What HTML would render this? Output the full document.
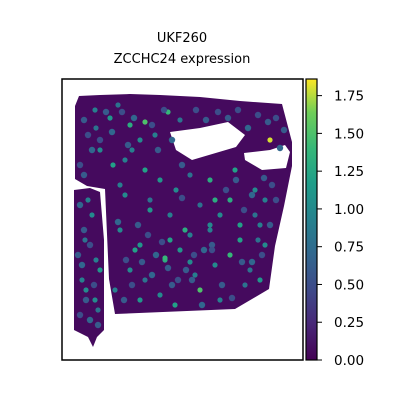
<!DOCTYPE html>
<html><head><meta charset="utf-8"><style>
body{margin:0;background:#fff}
svg text{font-family:"DejaVu Sans","Liberation Sans",sans-serif}
</style></head><body>
<svg id="chart" width="400" height="400" viewBox="0 0 400 400" xmlns="http://www.w3.org/2000/svg">
<defs>
<linearGradient id="vir" x1="0" y1="1" x2="0" y2="0">
<stop offset="0" stop-color="#440154"/><stop offset="0.13" stop-color="#482878"/><stop offset="0.25" stop-color="#3e4a89"/><stop offset="0.38" stop-color="#31688e"/><stop offset="0.5" stop-color="#26828e"/><stop offset="0.63" stop-color="#1f9e89"/><stop offset="0.75" stop-color="#35b779"/><stop offset="0.88" stop-color="#6ece58"/><stop offset="1" stop-color="#fde725"/>
</linearGradient>
</defs>
<text x="182" y="42" font-size="13" text-anchor="middle">UKF260</text>
<text x="182" y="63" font-size="13" text-anchor="middle">ZCCHC24 expression</text>
<g>
<polygon fill="#450a5e" points="79,96 100,95 130,94 160,95 200,97 240,101 282,104 292,142 292,166 284,206 275,246 269,289 235,309 115,314 109,279 105,189 87,186 75,179 75,106"/>
<polygon fill="#450a5e" points="74,190 90,188 100,192 104,240 104,330 97,337 93,347 88,337 74,330"/>
<polygon fill="#fff" points="170,132 200,128 228,122 245,135 236,147 192,160 176,150"/>
<polygon fill="#fff" points="244,153 270,150 285,145 290,152 286,168 262,170 245,160"/>
</g>
<g id="spots"></g>
<rect x="62" y="79" width="241" height="281" fill="none" stroke="#000" stroke-width="1.5"/>
<rect x="306" y="79" width="11" height="281" fill="url(#vir)" stroke="#000" stroke-width="1.2"/>
<g id="cbticks"></g>
</svg>
<script>
const tickValues=[0,0.25,0.5,0.75,1.0,1.25,1.5,1.75];
const tickLabels=["0.00","0.25","0.50","0.75","1.00","1.25","1.50","1.75"];
const spotX=[95,110,118,130,140,155,168,180,100,125,145,160,190,210,235,255,265,270,280,88,92,85,96,120,135,150,170,185,200,220,240,260,130,145,165,180,195,215,230,250,265,115,140,160,175,200,220,245,260,125,150,170,190,210,230,255,120,140,165,190,210,240,258,82,95,90,98,86,100,176,145,215,113,132,
84,88,92,80,84,96,100,106,112,122,128,134,152,158,164,172,182,196,206,218,228,238,248,258,268,276,284,272,264,252,244,236,226,212,204,194,186,178,168,156,148,138,126,118,124,132,142,152,162,172,182,192,202,212,222,232,242,252,262,270,276,80,84,90,78,82,94,86,80,98];
const spotY=[110,118,105,125,140,135,112,120,150,160,170,180,175,180,170,190,200,140,148,200,215,240,260,230,250,210,215,230,205,215,240,225,270,280,260,250,275,265,255,270,245,290,300,295,305,290,300,285,280,195,200,240,235,225,200,215,185,245,258,262,230,225,240,280,300,320,310,290,270,190,122,200,165,150,
120,135,150,165,175,128,140,112,132,112,145,118,125,150,110,140,165,110,120,112,118,110,128,115,122,118,130,185,178,195,210,180,190,245,250,255,270,280,268,255,235,225,260,222,300,285,262,275,242,285,198,280,305,250,285,298,262,262,255,225,200,205,230,245,255,265,285,300,315,325];
const spotV=[0.9,1.1,0.8,1.3,1.0,0.9,1.4,0.8,1.0,0.9,1.2,1.1,0.8,1.3,1.2,1.0,0.9,1.8,0.7,0.9,1.0,0.8,0.9,1.0,1.2,1.1,0.9,1.3,0.8,1.0,1.2,0.9,1.0,0.8,1.3,1.1,0.9,1.0,1.4,0.8,1.0,0.9,1.1,1.0,1.2,1.5,0.9,0.8,1.1,1.0,0.8,1.2,0.9,1.0,1.3,0.8,0.9,1.1,1.4,1.0,0.9,1.2,0.8,0.9,1.0,0.7,0.8,1.0,1.1,1.0,1.5,1.3,1.2,0.9,
0.6,0.5,0.7,0.5,0.6,0.8,0.5,0.6,0.7,0.5,0.6,0.7,0.5,0.6,0.5,0.7,0.6,0.5,0.6,0.5,0.6,0.5,0.7,0.5,0.6,0.5,0.6,0.5,0.6,0.7,0.5,0.6,0.5,0.6,0.7,0.5,0.6,0.5,0.6,0.7,0.5,0.6,0.5,0.7,0.6,0.5,0.6,0.7,0.5,0.6,0.5,0.6,0.7,0.5,0.6,0.5,0.6,0.7,0.5,0.6,0.5,0.7,0.6,0.5,0.6,0.7,0.5,0.6,0.5,0.6];
const vmax=1.86, cbTop=79, cbBot=360;
const yScale=v=>cbBot-(v/vmax)*(cbBot-cbTop);
const stops=[[0,[68,1,84]],[0.13,[72,40,120]],[0.25,[62,74,137]],[0.38,[49,104,142]],[0.5,[38,130,142]],[0.63,[31,158,137]],[0.75,[53,183,121]],[0.88,[110,206,88]],[1,[253,231,37]]];
function color(v){const t=Math.min(1,Math.max(0,v/vmax));for(let i=1;i<stops.length;i++){if(t<=stops[i][0]){const a=stops[i-1],b=stops[i];const f=(t-a[0])/(b[0]-a[0]);return 'rgb('+a[1].map((c,k)=>Math.round(c+(b[1][k]-c)*f)).join(',')+')';}}return 'rgb(253,231,37)';}
const NS='http://www.w3.org/2000/svg';
const sg=document.getElementById('spots');
spotX.forEach((x,i)=>{const c=document.createElementNS(NS,'circle');c.setAttribute('cx',x);c.setAttribute('cy',spotY[i]);c.setAttribute('r',spotV[i]<0.75?3.2:2.6);c.setAttribute('fill',color(spotV[i]));


sg.appendChild(c);});
const tg=document.getElementById('cbticks');
tickValues.forEach((v,i)=>{const y=yScale(v);const l=document.createElementNS(NS,'line');l.setAttribute('x1',317);l.setAttribute('x2',322);l.setAttribute('y1',y);l.setAttribute('y2',y);l.setAttribute('stroke','#000');


tg.appendChild(l);
const t=document.createElementNS(NS,'text');t.setAttribute('x',334);t.setAttribute('y',y+5);t.setAttribute('font-size','13.5');t.textContent=tickLabels[i];


tg.appendChild(t);});
</script>
</body></html>
